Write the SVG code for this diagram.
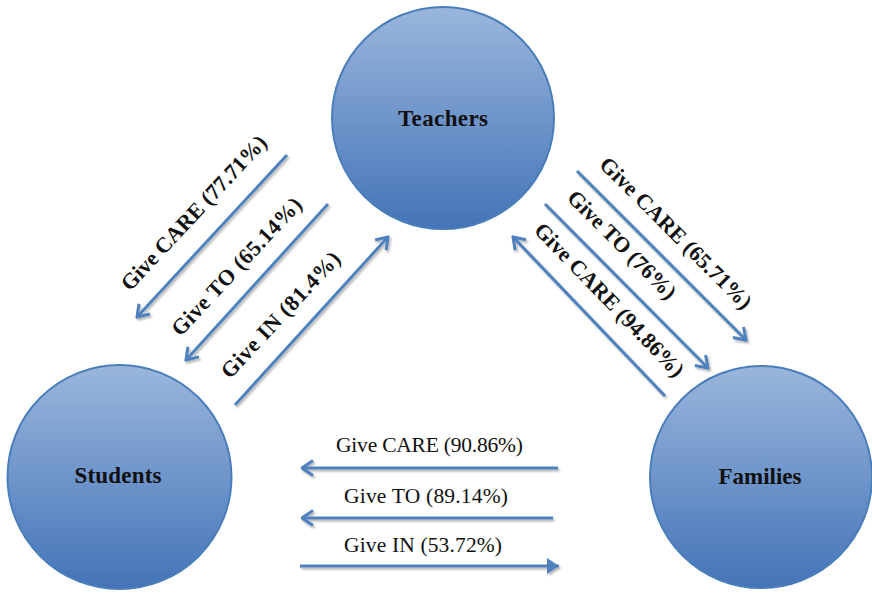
<svg xmlns="http://www.w3.org/2000/svg" width="872" height="593" viewBox="0 0 872 593">
  <style>
    .node circle { fill: url(#nodeFill); stroke: #4a7ebb; stroke-width: 2; }
    .node text { font-family: "Liberation Serif", "DejaVu Serif", serif; font-weight: bold; font-size: 23px; fill: #111; text-anchor: middle; }
    .link { fill: none; stroke: #4f81bd; stroke-width: 3; }
    .lbl { font-family: "Liberation Serif", "DejaVu Serif", serif; font-size: 21.5px; fill: #111; text-anchor: middle; }
    .lbl.b { font-weight: bold; font-size: 22px; }
  </style>
  <defs>
    <linearGradient id="nodeFill" x1="0" y1="0" x2="0" y2="1">
      <stop offset="0" stop-color="#9ab6dc"/>
      <stop offset="1" stop-color="#4474b8"/>
    </linearGradient>
    <filter id="shadow" x="-20%" y="-20%" width="140%" height="140%">
      <feDropShadow dx="1.5" dy="2" stdDeviation="1.2" flood-color="#000" flood-opacity="0.3"/>
    </filter>
    <marker id="open" viewBox="0 0 14 18" refX="12.5" refY="9" markerWidth="14" markerHeight="18" markerUnits="userSpaceOnUse" orient="auto">
      <path d="M1.5,1.5 L12.5,9 L1.5,16.5" fill="none" stroke="#4f81bd" stroke-width="3"/>
    </marker>
    <marker id="solid" viewBox="0 0 12 18" refX="12" refY="9" markerWidth="12" markerHeight="18" markerUnits="userSpaceOnUse" orient="auto">
      <path d="M0,1 L12,9 L0,17 Z" fill="#4f81bd"/>
    </marker>
  </defs>

  <rect width="872" height="593" fill="#fff"/>

  <!-- nodes -->
  <g id="teachers" class="node">
    <circle cx="443" cy="118" r="111"/>
    <text x="443" y="126" textLength="90">Teachers</text>
  </g>
  <g id="students" class="node">
    <circle cx="119.5" cy="477" r="112"/>
    <text x="118" y="483" textLength="87">Students</text>
  </g>
  <g id="families" class="node">
    <circle cx="761" cy="477" r="111"/>
    <text x="760" y="484" textLength="83">Families</text>
  </g>

  <!-- connectors -->
  <g id="connectors" filter="url(#shadow)">
    <!-- Teachers ↔ Students -->
    <line class="link" x1="287" y1="155" x2="137" y2="317" marker-end="url(#open)"/>
    <line class="link" x1="328" y1="204" x2="186" y2="360" marker-end="url(#open)"/>
    <line class="link" x1="235" y1="405" x2="388" y2="237" marker-end="url(#open)"/>
    <!-- Teachers ↔ Families -->
    <line class="link" x1="577" y1="171" x2="746" y2="340" marker-end="url(#open)"/>
    <line class="link" x1="545" y1="204" x2="708" y2="368" marker-end="url(#open)"/>
    <line class="link" x1="665" y1="396" x2="513" y2="237" marker-end="url(#open)"/>
    <!-- Families ↔ Students -->
    <line class="link" x1="558" y1="468" x2="302" y2="468" marker-end="url(#open)"/>
    <line class="link" x1="553" y1="518" x2="302" y2="518" marker-end="url(#open)"/>
    <line class="link" x1="300" y1="566" x2="559" y2="566" marker-end="url(#solid)"/>
  </g>

  <!-- connector labels -->
  <g id="labels">
    <text class="lbl b" transform="translate(199.1,217.8) rotate(-47)" textLength="203">Give CARE (77.71%)</text>
    <text class="lbl b" transform="translate(241.8,271.5) rotate(-47)" textLength="180">Give TO (65.14%)</text>
    <text class="lbl b" transform="translate(285.8,319.8) rotate(-47)" textLength="164">Give IN (81.4%)</text>
    <text class="lbl b" transform="translate(670.8,238.2) rotate(45)" textLength="205">Give CARE (65.71%)</text>
    <text class="lbl b" transform="translate(616.8,249.9) rotate(45)" textLength="144">Give TO (76%)</text>
    <text class="lbl b" transform="translate(604.1,304.9) rotate(46)" textLength="205">Give CARE (94.86%)</text>
    <text class="lbl" x="429.5" y="452" textLength="187">Give CARE (90.86%)</text>
    <text class="lbl" x="426" y="503" textLength="164">Give TO (89.14%)</text>
    <text class="lbl" x="423" y="552" textLength="158">Give IN (53.72%)</text>
  </g>
</svg>
